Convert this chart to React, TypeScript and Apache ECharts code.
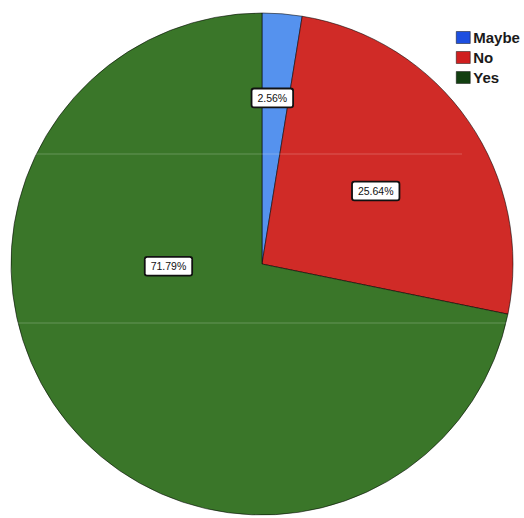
import React, { useEffect, useRef } from "react";
import * as echarts from "echarts";

const categories = ["Maybe", "No", "Yes"];
const values = [2.56, 25.64, 71.79];
const sliceColors = ["#5592ee", "#d02b27", "#3a7629"];
const legendColors = ["#1d4fe0", "#d01f1f", "#123f10"];
const labelShift = [
  [0, -38],
  [8, 0],
  [6, -79],
];

export default function App() {
  const ref = useRef<HTMLDivElement>(null);
  useEffect(() => {
    if (!ref.current) return;
    const chart = echarts.init(ref.current, undefined, { renderer: "svg" });
    chart.setOption({
      animation: false,
      backgroundColor: "#ffffff",
      legend: {
        orient: "vertical",
        left: 451,
        top: 25,
        itemWidth: 14,
        itemHeight: 12,
        itemGap: 5,
        icon: "rect",
        selectedMode: false,
        textStyle: {
          fontFamily: "Liberation Sans, Arial, sans-serif",
          fontWeight: "bold",
          fontSize: 15,
          lineHeight: 15,
          color: "#1a1a1a",
          padding: [0, 0, 0, -2],
        },
        data: categories.map((c, i) => ({
          name: c,
          itemStyle: { color: legendColors[i], borderColor: "#111", borderWidth: 0.5 },
        })),
      },
      graphic: [
        {
          type: "line",
          shape: { x1: 30, y1: 154, x2: 462, y2: 154 },
          style: { stroke: "rgba(255,255,255,0.15)", lineWidth: 1.5 },
          z: 10,
        },
        {
          type: "line",
          shape: { x1: 12, y1: 323, x2: 510, y2: 323 },
          style: { stroke: "rgba(255,255,255,0.15)", lineWidth: 1.5 },
          z: 10,
        },
      ],
      series: [
        {
          type: "pie",
          center: [262, 264],
          radius: [0, 251],
          startAngle: 90,
          clockwise: true,
          avoidLabelOverlap: false,
          emphasis: { disabled: true },
          itemStyle: { borderColor: "rgba(0,0,0,0.55)", borderWidth: 1 },
          label: {
            show: true,
            position: "inside",
            formatter: (p: any) => p.value.toFixed(2) + "%",
            fontFamily: "Liberation Sans, Arial, sans-serif",
            fontSize: 10.5,
            color: "#111",
            backgroundColor: "#ffffff",
            borderColor: "#111",
            borderWidth: 1.8,
            borderRadius: 1.5,
            padding: [3, 5, 3, 5],
          },
          labelLine: { show: false },
          labelLayout: (params: any) => {
            const s = labelShift[params.dataIndex] || [0, 0];
            return { dx: s[0], dy: s[1] };
          },
          data: categories.map((c, i) => ({
            name: c,
            value: values[i],
            itemStyle: { color: sliceColors[i] },
          })),
        },
      ],
    });
    return () => chart.dispose();
  }, []);
  return (
    <div
      ref={ref}
      style={{ position: "fixed", left: 0, top: 0, width: 524, height: 518 }}
    />
  );
}
